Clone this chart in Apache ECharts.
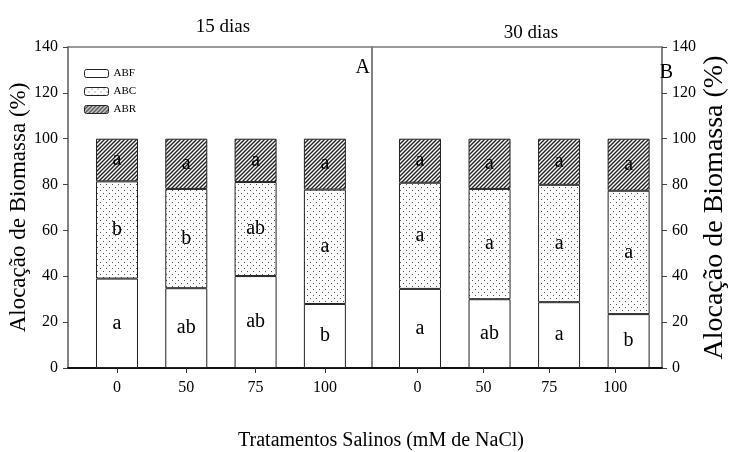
<!DOCTYPE html>
<html>
<head>
<meta charset="utf-8">
<script src="https://cdn.jsdelivr.net/npm/echarts@6/dist/echarts.min.js"></script>
<style>html,body{margin:0;padding:0;background:#fff}#c{width:730px;height:452px}</style>
</head>
<body>
<div id="c"></div>
<script>
// ---- data ----
var categories = ['0', '50', '75', '100'];
var yTicks = [0, 20, 40, 60, 80, 100, 120, 140];
var seriesNames = ['ABF', 'ABC', 'ABR'];
// 15 dias
var abf15 = [39.0, 34.8, 40.1, 27.9];
var abc15 = [42.4, 43.3, 41.0, 49.9];
var abr15 = [18.6, 21.9, 18.9, 22.2];
var abfLetters15 = ['a', 'ab', 'ab', 'b'];
var abcLetters15 = ['b', 'b', 'ab', 'a'];
var abrLetters15 = ['a', 'a', 'a', 'a'];
// 30 dias
var abf30 = [34.5, 30.0, 28.7, 23.5];
var abc30 = [46.3, 48.1, 51.2, 53.8];
var abr30 = [19.2, 21.9, 20.1, 22.7];
var abfLetters30 = ['a', 'ab', 'a', 'b'];
var abcLetters30 = ['a', 'a', 'a', 'a'];
var abrLetters30 = ['a', 'a', 'a', 'a'];

// ---- patterns ----
function dotPattern() {
  var c = document.createElement('canvas'); c.width = 6; c.height = 6;
  var g = c.getContext('2d');
  g.fillStyle = '#fff'; g.fillRect(0, 0, 6, 6);
  g.fillStyle = '#555';
  g.fillRect(1, 1, 1, 1); g.fillRect(4, 4, 1, 1);
  return c;
}
function hatchPattern() {
  var c = document.createElement('canvas'); c.width = 4; c.height = 4;
  var g = c.getContext('2d');
  g.fillStyle = '#fff'; g.fillRect(0, 0, 4, 4);
  g.strokeStyle = '#222'; g.lineWidth = 1.4;
  g.beginPath();
  g.moveTo(-1, 5); g.lineTo(5, -1);
  g.moveTo(-1, 1); g.lineTo(1, -1);
  g.moveTo(3, 5); g.lineTo(5, 3);
  g.stroke();
  return c;
}
var fills = [
  '#ffffff',
  { image: dotPattern(), repeat: 'repeat' },
  { image: hatchPattern(), repeat: 'repeat' }
];

var FONT = "'Liberation Serif', 'Times New Roman', serif";
var chart = echarts.init(document.getElementById('c'), null, { renderer: 'canvas' });

// panel geometry (frame grids)
var TOP = 47, HEIGHT = 321;
var panels = [
  { left: 68, width: 304, xmin: -0.707, xmax: 3.68 },
  { left: 372, width: 306, xmin: -0.69, xmax: 3.71 }
];
function barGrid(p) {
  var unit = p.width / (p.xmax - p.xmin);
  return { left: p.left + (-0.5 - p.xmin) * unit, top: TOP, width: 4 * unit, height: HEIGHT, show: false };
}

function makeSeries(gridIdx, vals, letters) {
  return vals.map(function (arr, k) {
    return {
      name: seriesNames[k],
      type: 'bar',
      xAxisIndex: gridIdx,
      yAxisIndex: gridIdx,
      stack: 'total' + gridIdx,
      barWidth: 42,
      data: arr,
      itemStyle: { color: fills[k], borderColor: '#222', borderWidth: 1 },
      label: {
        show: true, position: 'inside', color: '#000',
        fontFamily: FONT, fontSize: 20,
        formatter: function (p) { return letters[k][p.dataIndex]; }
      },
      emphasis: { disabled: true },
      animation: false
    };
  });
}

function frameXAxis(gridIdx, p) {
  return {
    type: 'value', gridIndex: gridIdx, min: p.xmin, max: p.xmax,
    splitLine: { show: false },
    axisLine: { show: true, onZero: false, lineStyle: { color: '#111', width: 2 } },
    axisTick: { show: true, customValues: [0, 1, 2, 3], length: 5, lineStyle: { color: '#333' } },
    axisLabel: {
      customValues: [0, 1, 2, 3], margin: 12, color: '#000', fontFamily: FONT, fontSize: 16,
      formatter: function (v) { return categories[Math.round(v)]; }
    }
  };
}
function frameYAxis(gridIdx, pos, nameGap, nameSize) {
  return {
    type: 'value', gridIndex: gridIdx, position: pos, min: 0, max: 140, interval: 20,
    name: 'Alocação de Biomassa (%)', nameLocation: 'middle', nameRotate: 90, nameGap: nameGap,
    nameTextStyle: { fontFamily: FONT, fontSize: nameSize, color: '#000' },
    splitLine: { show: false },
    axisLine: { show: true, onZero: false, lineStyle: { color: '#7a7a7a', width: 1.5 } },
    axisTick: { show: true, length: 5, lineStyle: { color: '#444' } },
    axisLabel: {
      margin: 10, color: '#000', fontFamily: FONT, fontSize: 16,
      formatter: function (v) { return yTicks.indexOf(v) >= 0 ? String(v) : ''; }
    }
  };
}
function barXAxis(gridIdx) {
  return { type: 'category', gridIndex: gridIdx, data: categories, show: false, boundaryGap: true };
}
function barYAxis(gridIdx) {
  return { type: 'value', gridIndex: gridIdx, min: 0, max: 140, show: false, splitLine: { show: false } };
}

var option = {
  backgroundColor: '#fff',
  animation: false,
  title: [
    { text: '15 dias', left: 218, top: 13, textAlign: 'center', textStyle: { fontFamily: FONT, fontSize: 19, fontWeight: 'normal', color: '#000' } },
    { text: '30 dias', left: 526, top: 19, textAlign: 'center', textStyle: { fontFamily: FONT, fontSize: 19, fontWeight: 'normal', color: '#000' } },
    { text: 'A', left: 365, top: 53, textAlign: 'right', textStyle: { fontFamily: FONT, fontSize: 20, fontWeight: 'normal', color: '#000' } },
    { text: 'B', left: 668, top: 58, textAlign: 'right', textStyle: { fontFamily: FONT, fontSize: 20, fontWeight: 'normal', color: '#000' } },
    { text: 'Tratamentos Salinos (mM de NaCl)', left: 376, top: 426, textAlign: 'center', textStyle: { fontFamily: FONT, fontSize: 20, fontWeight: 'normal', color: '#000' } }
  ],
  legend: {
    data: seriesNames, orient: 'vertical', left: 79, top: 63,
    itemWidth: 24, itemHeight: 8, itemGap: 7, selectedMode: false,
    textStyle: { fontFamily: FONT, fontSize: 11, color: '#000' },
    itemStyle: { borderColor: '#222', borderWidth: 1 }
  },
  grid: [
    { left: panels[0].left, top: TOP, width: panels[0].width, height: HEIGHT, show: true, borderColor: '#7a7a7a', borderWidth: 1.5, backgroundColor: 'transparent' },
    { left: panels[1].left, top: TOP, width: panels[1].width, height: HEIGHT, show: true, borderColor: '#7a7a7a', borderWidth: 1.5, backgroundColor: 'transparent' },
    barGrid(panels[0]),
    barGrid(panels[1])
  ],
  xAxis: [frameXAxis(0, panels[0]), frameXAxis(1, panels[1]), barXAxis(2), barXAxis(3)],
  yAxis: [frameYAxis(0, 'left', 35, 23), frameYAxis(1, 'right', 39, 28), barYAxis(2), barYAxis(3)],
  series: makeSeries(2, [abf15, abc15, abr15], [abfLetters15, abcLetters15, abrLetters15])
    .concat(makeSeries(3, [abf30, abc30, abr30], [abfLetters30, abcLetters30, abrLetters30]))
};
chart.setOption(option);
</script>
</body>
</html>
